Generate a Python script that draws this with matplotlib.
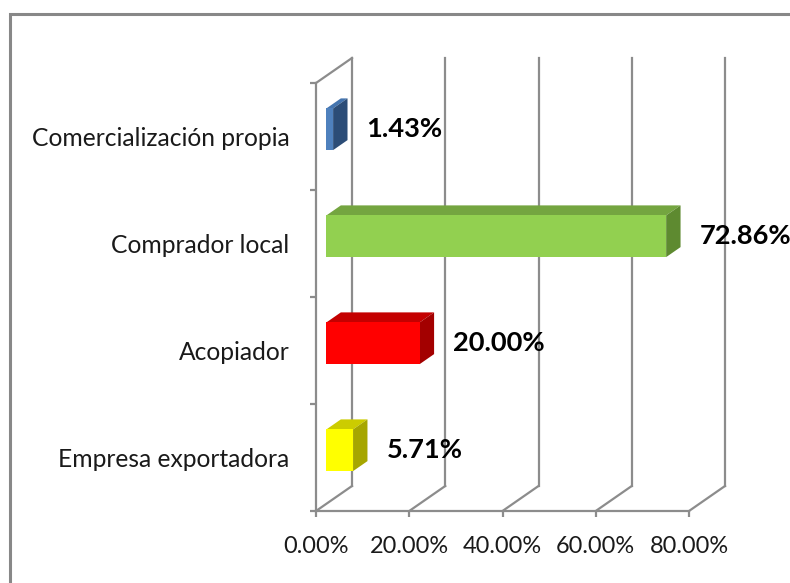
import matplotlib.pyplot as plt
from matplotlib.patches import Polygon, Rectangle

# data, bottom to top
categories = ['Empresa exportadora', 'Acopiador', 'Comprador local', 'Comercialización propia']
values = [5.71, 20.00, 72.86, 1.43]
labels = ['5.71%', '20.00%', '72.86%', '1.43%']
x_ticks = [0, 20, 40, 60, 80]
x_ticklabels = ['0.00%', '20.00%', '40.00%', '60.00%', '80.00%']

# face colours (front, top, side) for each bar
front_colors = ['#ffff00', '#ff0000', '#92d050', '#4f81bd']
top_colors = ['#cccc00', '#c40000', '#74a540', '#4474ae']
side_colors = ['#a6a600', '#a30000', '#5e8a30', '#2c4d77']

plt.rcParams['font.family'] = ['Lato', 'DejaVu Sans']
W, H = 790, 583
fig = plt.figure(figsize=(W / 100, H / 100), dpi=100)

# front plane of the plot area, in pixels
x0, x1, ytop, ybot = 316, 689, 83, 511
ax = fig.add_axes([x0 / W, 1 - ybot / H, (x1 - x0) / W, (ybot - ytop) / H])
ax.set_xlim(0, 80)
ax.set_ylim(0, len(categories))

# 3d depth of the walls, converted to data units
px_x = 80 / (x1 - x0)
px_y = len(categories) / (ybot - ytop)
DX = 36 * px_x
DY = 25 * px_y
grid = '#8c8c8c'
lw = 1.6

# back wall gridlines and floor lines
for t in x_ticks:
    ax.plot([t + DX, t + DX], [DY, len(categories) + DY], color=grid, lw=lw, clip_on=False, zorder=1)
    ax.plot([t, t + DX], [0, DY], color=grid, lw=lw, clip_on=False, zorder=1)
# left wall top edge
ax.plot([0, DX], [len(categories), len(categories) + DY], color=grid, lw=lw, clip_on=False, zorder=1)

# 3d bars
f = 0.29      # front face position inside the depth
b = 0.40      # bar depth
h = 0.39      # bar thickness
for i, v in enumerate(values):
    c = i + 0.5
    fx = f * DX
    fy = c + f * DY
    bx = b * DX
    by = b * DY
    y0, y1 = fy - h / 2, fy + h / 2
    front = [(fx, y0), (fx + v, y0), (fx + v, y1), (fx, y1)]
    top = [(fx, y1), (fx + v, y1), (fx + v + bx, y1 + by), (fx + bx, y1 + by)]
    side = [(fx + v, y0), (fx + v + bx, y0 + by), (fx + v + bx, y1 + by), (fx + v, y1)]
    ax.add_patch(Polygon(top, closed=True, facecolor=top_colors[i], edgecolor='none', zorder=3, clip_on=False))
    ax.add_patch(Polygon(side, closed=True, facecolor=side_colors[i], edgecolor='none', zorder=3, clip_on=False))
    ax.add_patch(Polygon(front, closed=True, facecolor=front_colors[i], edgecolor='none', zorder=4, clip_on=False))
    ax.annotate(labels[i], xy=(fx + v + bx, fy), xytext=(19, 0), textcoords='offset pixels',
                ha='left', va='center', fontsize=19.6, fontweight='bold', color='black',
                annotation_clip=False, zorder=5)

# front axes
for s in ['top', 'right']:
    ax.spines[s].set_visible(False)
for s in ['left', 'bottom']:
    ax.spines[s].set_color(grid)
    ax.spines[s].set_linewidth(lw)
ax.set_xticks(x_ticks)
ax.set_xticklabels(x_ticklabels, fontsize=16.9, color='#1a1a1a')
ax.set_yticks(range(len(categories) + 1))
ax.set_yticklabels([])
ax.set_yticks([c + 0.5 for c in range(len(categories))], minor=True)
ax.set_yticklabels(categories, minor=True, fontsize=17.7, color='#1a1a1a')
ax.tick_params(axis='both', which='major', length=4.3, width=lw, color=grid, direction='out')
ax.tick_params(axis='x', pad=13.5)
ax.tick_params(axis='y', which='minor', length=0, pad=19)
ax.patch.set_visible(False)

# chart border
fig.patches.append(Rectangle((9.5 / W, -0.1), 1.2, 1 - 13.5 / H + 0.1, transform=fig.transFigure,
                             fill=False, edgecolor='#888888', lw=2.2))

plt.savefig('out.png', dpi=100)
plt.close()
